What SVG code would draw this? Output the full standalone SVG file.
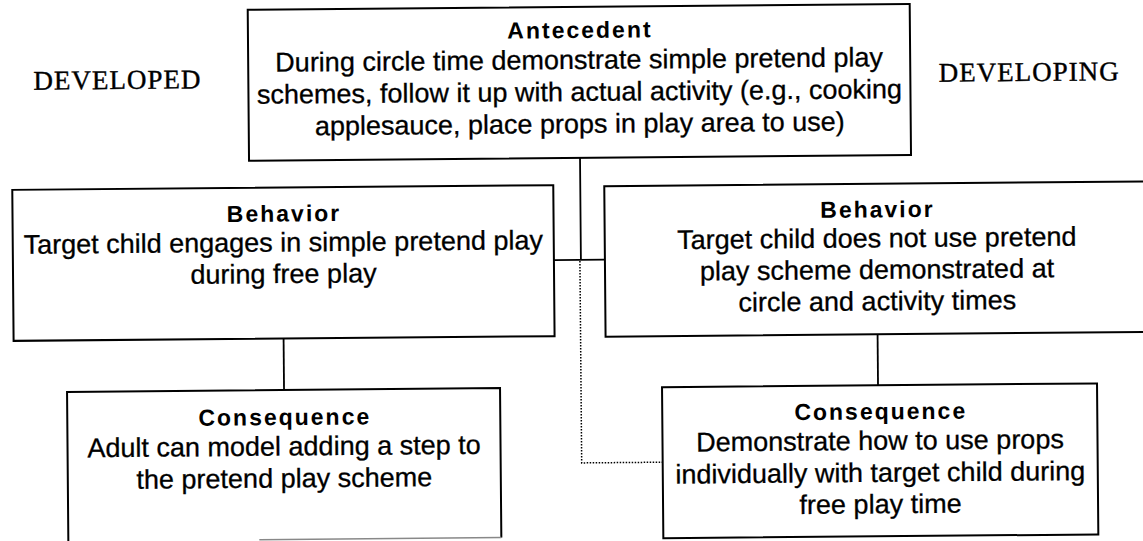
<svg xmlns="http://www.w3.org/2000/svg" width="1143" height="541" viewBox="0 0 1143 541">
<style>
.box{fill:#fff;stroke:#000;stroke-width:2}
.edge{fill:none;stroke:#000;stroke-width:1.8}
.dot{fill:none;stroke:#000;stroke-width:1.5;stroke-dasharray:1.5 1.5}
.faint{fill:none;stroke:#888;stroke-width:1.5}
.h{font-family:"Liberation Sans",Arial,sans-serif;font-weight:bold;font-size:23px;letter-spacing:2px;text-anchor:middle;fill:#000}
.t{font-family:"Liberation Sans",Arial,sans-serif;font-size:27px;text-anchor:middle;fill:#000;stroke:#000;stroke-width:0.3}
.lab{font-family:"Liberation Serif","Times New Roman",serif;font-size:27px;letter-spacing:1px;text-anchor:middle;fill:#000;stroke:#000;stroke-width:0.4}
</style>
<rect width="1143" height="541" fill="#fff"/>
<g transform="rotate(-0.5 571 270)">
  <g id="connectors">
    <path class="edge" d="M581,158 V260 M554,260 H605"/>
    <path class="dot" d="M580,261 V463 H661"/>
    <path class="edge" d="M283,336 V387.5"/>
    <path class="edge" d="M877,337 V388"/>
  </g>
  <g id="label-developed">
    <text class="lab" x="119" y="85">DEVELOPED</text>
  </g>
  <g id="label-developing">
    <text class="lab" x="1031" y="85">DEVELOPING</text>
  </g>
  <g id="antecedent">
    <rect class="box" x="250" y="7" width="662" height="151"/>
    <text class="h" x="582" y="38">Antecedent</text>
    <text class="t" x="581" y="69">During circle time demonstrate simple pretend play</text>
    <text class="t" x="581" y="101">schemes, follow it up with actual activity (e.g., cooking</text>
    <text class="t" x="581" y="133">applesauce, place props in play area to use)</text>
  </g>
  <g id="behavior-developed">
    <rect class="box" x="13" y="185" width="541" height="151"/>
    <text class="h" x="284.5" y="219">Behavior</text>
    <text class="t" x="283.5" y="249">Target child engages in simple pretend play</text>
    <text class="t" x="283.5" y="280.5">during free play</text>
  </g>
  <g id="behavior-developing">
    <rect class="box" x="605" y="186.5" width="560" height="150.5"/>
    <text class="h" x="878" y="220">Behavior</text>
    <text class="t" x="877" y="250">Target child does not use pretend</text>
    <text class="t" x="877" y="281.5">play scheme demonstrated at</text>
    <text class="t" x="877" y="313">circle and activity times</text>
  </g>
  <g id="consequence-developed">
    <path class="box" d="M66,546 V387.5 H499 V537"/>
    <path class="faint" d="M257,537 H499"/>
    <text class="h" x="283.5" y="422.5">Consequence</text>
    <text class="t" x="282.5" y="453">Adult can model adding a step to</text>
    <text class="t" x="282.5" y="485">the pretend play scheme</text>
  </g>
  <g id="consequence-developing">
    <rect class="box" x="661" y="388" width="435" height="151"/>
    <text class="h" x="879.5" y="422">Consequence</text>
    <text class="t" x="878.5" y="452.5">Demonstrate how to use props</text>
    <text class="t" x="878.5" y="484.5">individually with target child during</text>
    <text class="t" x="878.5" y="516">free play time</text>
  </g>
</g>
</svg>
